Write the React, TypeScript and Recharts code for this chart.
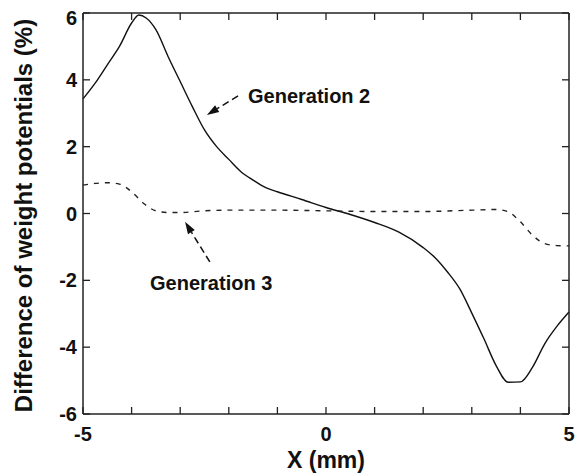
import React from "react";
import { LineChart, Line, XAxis, YAxis, ReferenceLine, ReferenceDot } from "recharts";

const FONT = "'Liberation Sans', Arial, Helvetica, sans-serif";
const INK = "#111";
const FRAME = "#222";

// Generation 2 (solid)
const gen2X = [-5, -4.75, -4.5, -4.25, -4, -3.85, -3.7, -3.5, -3.25, -3, -2.75, -2.5, -2.25, -2, -1.75, -1.5, -1.25, -1, -0.5, 0, 0.5, 1, 1.5, 2, 2.25, 2.5, 2.75, 3, 3.25, 3.5, 3.75, 4, 4.25, 4.5, 4.75, 5];
const gen2Y = [3.43, 3.9, 4.45, 5.0, 5.7, 5.94, 5.85, 5.5, 4.7, 3.95, 3.2, 2.5, 2.0, 1.62, 1.25, 1.0, 0.78, 0.65, 0.42, 0.18, -0.03, -0.27, -0.56, -1.02, -1.33, -1.75, -2.25, -2.98, -3.75, -4.55, -5.05, -5.04, -4.6, -3.9, -3.38, -2.95];

// Generation 3 (dashed)
const gen3X = [-5, -4.75, -4.5, -4.25, -4, -3.75, -3.5, -3.25, -3, -2.5, -2, -1, 0, 1, 2, 3, 3.5, 3.75, 4, 4.25, 4.5, 4.75, 5];
const gen3Y = [0.85, 0.9, 0.92, 0.88, 0.65, 0.3, 0.08, 0.03, 0.03, 0.08, 0.1, 0.1, 0.08, 0.06, 0.06, 0.1, 0.12, 0.05, -0.25, -0.65, -0.9, -0.96, -0.97];

const xTicks = [-5, -4, -3, -2, -1, 0, 1, 2, 3, 4, 5];
const xTickLabels = [-5, 0, 5];
const yTicks = [-6, -4, -2, 0, 2, 4, 6];
const xDomain = [-5, 5];
const yDomain = [-6, 6];

// annotation anchors, in data units
const gen2Arrow = [{ x: -1.81, y: 3.52 }, { x: -2.45, y: 2.95 }];
const gen3Arrow = [{ x: -2.39, y: -1.45 }, { x: -2.9, y: -0.25 }];
const gen2Text = { x: -1.605, y: 3.31, text: "Generation 2" };
const gen3Text = { x: -3.62, y: -2.29, text: "Generation 3" };

const gen2Data = gen2X.map((x, i) => ({ x, y: gen2Y[i] }));
const gen3Data = gen3X.map((x, i) => ({ x, y: gen3Y[i] }));

const W = 588;
const H = 476;
const MARGIN = { top: 13, right: 19, bottom: 0, left: 0 };
const X_AXIS_H = 62;
const Y_AXIS_W = 83;

function BottomTick({ x, y, payload }: any) {
  const show = xTickLabels.includes(payload.value);
  return (
    <g>
      <line x1={x} y1={y} x2={x} y2={y - 7} stroke={FRAME} strokeWidth={1.3} />
      {show && (
        <text x={x} y={y + 27} textAnchor="middle" fontSize={20} fontWeight="bold" fontFamily={FONT} fill={INK}>
          {payload.value}
        </text>
      )}
    </g>
  );
}

function LeftTick({ x, y, payload }: any) {
  const dy = payload.value === 6 ? 12 : 7;
  return (
    <g>
      <line x1={x} y1={y} x2={x + 7} y2={y} stroke={FRAME} strokeWidth={1.3} />
      <text x={x - 6} y={y + dy} textAnchor="end" fontSize={20} fontWeight="bold" fontFamily={FONT} fill={INK}>
        {payload.value}
      </text>
    </g>
  );
}

// top and right edges of the box with inward ticks, laid over the chart
function FrameOverlay() {
  const left = MARGIN.left + Y_AXIS_W;
  const right = W - MARGIN.right;
  const top = MARGIN.top;
  const bottom = H - MARGIN.bottom - X_AXIS_H;
  const px = (v: number) => left + ((v - xDomain[0]) / (xDomain[1] - xDomain[0])) * (right - left);
  const py = (v: number) => bottom - ((v - yDomain[0]) / (yDomain[1] - yDomain[0])) * (bottom - top);
  return (
    <svg
      width={W}
      height={H}
      style={{ position: "absolute", left: 0, top: 0, pointerEvents: "none" }}
    >
      <line x1={left} y1={top} x2={right} y2={top} stroke={FRAME} strokeWidth={1.5} />
      <line x1={right} y1={top} x2={right} y2={bottom} stroke={FRAME} strokeWidth={1.5} />
      {xTicks.map((t) => (
        <line key={`tx${t}`} x1={px(t)} y1={top} x2={px(t)} y2={top + 7} stroke={FRAME} strokeWidth={1.3} />
      ))}
      {yTicks.map((t) => (
        <line key={`ty${t}`} x1={right} y1={py(t)} x2={right - 7} y2={py(t)} stroke={FRAME} strokeWidth={1.3} />
      ))}
    </svg>
  );
}

function Arrow({ x1, y1, x2, y2 }: any) {
  const dx = x2 - x1;
  const dy = y2 - y1;
  const len = Math.sqrt(dx * dx + dy * dy) || 1;
  const ux = dx / len;
  const uy = dy / len;
  const bx = x2 - ux * 12;
  const by = y2 - uy * 12;
  const nx = -uy * 4;
  const ny = ux * 4;
  return (
    <g>
      <line x1={x1} y1={y1} x2={bx} y2={by} stroke={INK} strokeWidth={1.5} strokeDasharray="7 4" />
      <polygon points={`${x2},${y2} ${bx + nx},${by + ny} ${bx - nx},${by - ny}`} fill={INK} />
    </g>
  );
}

function makeLabel(text: string) {
  return ({ cx, cy }: any) => (
    <text x={cx} y={cy} fontSize={20} fontWeight="bold" fontFamily={FONT} fill={INK}>
      {text}
    </text>
  );
}

export default function App() {
  return (
    <div style={{ position: "absolute", left: 0, top: 0, width: W, height: H, background: "#fff" }}>
      <LineChart width={W} height={H} margin={MARGIN}>
        <XAxis
          dataKey="x"
          type="number"
          domain={xDomain}
          ticks={xTicks}
          interval={0}
          height={X_AXIS_H}
          tickSize={0}
          tickMargin={0}
          tickLine={false}
          tick={<BottomTick />}
          axisLine={{ stroke: FRAME, strokeWidth: 1.5 }}
          label={{
            content: ({ viewBox }: any) => (
              <text
                x={viewBox.x + viewBox.width / 2}
                y={viewBox.y + 54}
                textAnchor="middle"
                fontSize={23}
                fontWeight="bold"
                fontFamily={FONT}
                fill={INK}
              >
                X (mm)
              </text>
            ),
          }}
        />
        <YAxis
          type="number"
          domain={yDomain}
          ticks={yTicks}
          interval={0}
          width={Y_AXIS_W}
          tickSize={0}
          tickMargin={0}
          tickLine={false}
          tick={<LeftTick />}
          axisLine={{ stroke: FRAME, strokeWidth: 1.5 }}
          label={{
            content: ({ viewBox }: any) => {
              const cx = 32;
              const cy = viewBox.y + viewBox.height / 2 + 2;
              return (
                <text
                  x={cx}
                  y={cy}
                  transform={`rotate(-90, ${cx}, ${cy})`}
                  textAnchor="middle"
                  fontSize={24}
                  fontWeight="bold"
                  fontFamily={FONT}
                  fill={INK}
                >
                  Difference of weight potentials (%)
                </text>
              );
            },
          }}
        />

        <Line
          data={gen2Data}
          dataKey="y"
          type="monotone"
          stroke={INK}
          strokeWidth={1.4}
          dot={false}
          isAnimationActive={false}
        />
        <Line
          data={gen3Data}
          dataKey="y"
          type="monotone"
          stroke={FRAME}
          strokeWidth={1.4}
          strokeDasharray="5 6"
          dot={false}
          isAnimationActive={false}
        />

        <ReferenceLine segment={gen2Arrow} ifOverflow="visible" shape={(p: any) => <Arrow {...p} />} />
        <ReferenceLine segment={gen3Arrow} ifOverflow="visible" shape={(p: any) => <Arrow {...p} />} />
        <ReferenceDot x={gen2Text.x} y={gen2Text.y} ifOverflow="visible" shape={makeLabel(gen2Text.text)} />
        <ReferenceDot x={gen3Text.x} y={gen3Text.y} ifOverflow="visible" shape={makeLabel(gen3Text.text)} />
      </LineChart>
      <FrameOverlay />
    </div>
  );
}
